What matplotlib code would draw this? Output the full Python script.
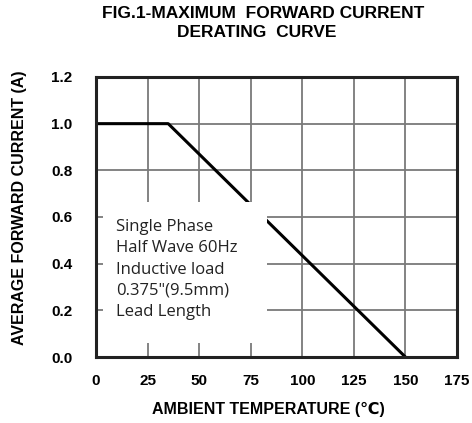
import matplotlib
matplotlib.use("Agg")
import matplotlib.pyplot as plt
from matplotlib.patches import Rectangle

# derating curve points
temp = [0, 35, 150]
current = [1.0, 1.0, 0.0]

xticks = [0, 25, 50, 75, 100, 125, 150, 175]
yticks = [0.0, 0.2, 0.4, 0.6, 0.8, 1.0, 1.2]

note = "Single Phase\nHalf Wave 60Hz\nInductive load\n0.375\"(9.5mm)\nLead Length"

plt.rcParams['font.family'] = ['Liberation Sans', 'DejaVu Sans']

fig = plt.figure(figsize=(4.72, 4.23), dpi=100)
ax = fig.add_axes([0.2034, 0.156, 0.7648, 0.662])

ax.plot(temp, current, color='black', lw=2.2, zorder=3, solid_capstyle='butt')

ax.set_xlim(0, 175)
ax.set_ylim(0, 1.2)
ax.set_xticks(xticks)
ax.set_yticks(yticks)
ax.set_xticklabels([str(t) for t in xticks], fontweight='bold', fontsize=11)
ax.set_yticklabels([f"{v:.1f}" for v in yticks], fontweight='bold', fontsize=11)
ax.tick_params(axis='x', length=0, pad=12)
ax.tick_params(axis='y', length=0, pad=17)
ax.grid(True, color='#7a7a7a', lw=1.3, zorder=1)
ax.set_axisbelow(True)
for s in ax.spines.values():
    s.set_linewidth(2.2)
    s.set_color('#222222')
    s.set_zorder(5)

# white box hiding grid and part of the curve behind the note
ax.add_patch(Rectangle((3.4, 0.06), 79.5, 0.605, facecolor='white', edgecolor='none', zorder=4))
ax.text(9.7, 0.375, note, fontsize=12, va='center', ha='left', linespacing=1.45,
        family=['Open Sans', 'DejaVu Sans'], color='#222222', zorder=6)

ax.set_xlabel("AMBIENT TEMPERATURE (\u2103)", fontweight='bold', fontsize=11.5)
ax.xaxis.set_label_coords(0.477, -0.16)
ax.set_ylabel("AVERAGE FORWARD CURRENT (A)", fontweight='bold', fontsize=11.5)
ax.yaxis.set_label_coords(-0.19, 0.532)

fig.text(0.557, 0.967, "FIG.1-MAXIMUM  FORWARD CURRENT", ha='center', va='center',
         fontweight='bold', fontsize=12.5)
fig.text(0.543, 0.922, "DERATING  CURVE", ha='center', va='center',
         fontweight='bold', fontsize=12.5)

fig.savefig("out.png", dpi=100)
